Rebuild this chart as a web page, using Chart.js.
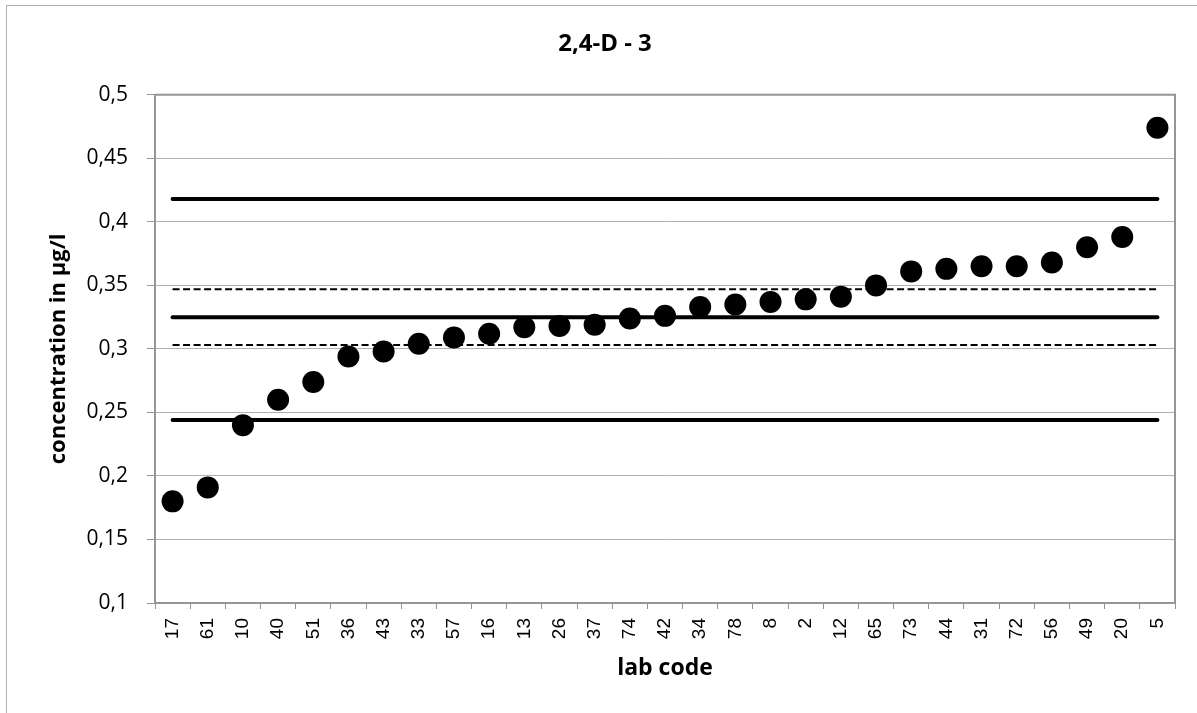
<!DOCTYPE html>
<html>
<head>
<meta charset="utf-8">
<script src="https://cdn.jsdelivr.net/npm/chart.js@4/dist/chart.umd.min.js"></script>
<style>
  body { margin: 0; background: #fff; }
  #chart { display: block; }
</style>
</head>
<body>
<canvas id="chart" width="1197" height="713"></canvas>
<script>
const labCodes = ["17", "61", "10", "40", "51", "36", "43", "33", "57", "16", "13", "26", "37", "74", "42",
  "34", "78", "8", "2", "12", "65", "73", "44", "31", "72", "56", "49", "20", "5"];
const concentrations = [0.180, 0.191, 0.240, 0.260, 0.274, 0.294, 0.298, 0.304, 0.309, 0.312, 0.317, 0.318,
  0.319, 0.324, 0.326, 0.333, 0.335, 0.337, 0.339, 0.341, 0.350, 0.361, 0.363, 0.365, 0.365, 0.368,
  0.380, 0.388, 0.474];
// reference lines: assigned value, +/- limits
const upperLimit = 0.418;
const upperDash = 0.347;
const assignedValue = 0.325;
const lowerDash = 0.303;
const lowerLimit = 0.244;
const yTickValues = [0.1, 0.15, 0.2, 0.25, 0.3, 0.35, 0.4, 0.45, 0.5];

const first = labCodes[0];
const last = labCodes[labCodes.length - 1];

function refLine(value, dashed) {
  return {
    data: [{ x: first, y: value }, { x: last, y: value }],
    borderColor: "#000",
    borderWidth: dashed ? 2 : 4,
    borderDash: dashed ? [7, 3.5] : [],
    borderCapStyle: dashed ? "butt" : "round",
    pointRadius: 0,
    fill: false
  };
}

const framePlugin = {
  id: "frame",
  beforeDraw(chart) {
    const ctx = chart.ctx;
    ctx.save();
    ctx.strokeStyle = "#b0b0b0";
    ctx.lineWidth = 1;
    ctx.strokeRect(6.5, 5.5, 1400, 1000);
    ctx.restore();
  },
  afterDraw(chart) {
    const { ctx, chartArea } = chart;
    ctx.save();
    ctx.strokeStyle = "#959595";
    ctx.lineWidth = 2;
    ctx.beginPath();
    ctx.moveTo(chartArea.left, chartArea.top);
    ctx.lineTo(chartArea.right, chartArea.top);
    ctx.lineTo(chartArea.right, chartArea.bottom);
    ctx.stroke();
    ctx.restore();
  }
};

const ctx = document.getElementById("chart").getContext("2d");
const chart = new Chart(ctx, {
  type: "line",
  data: {
    labels: labCodes,
    datasets: [
      {
        data: concentrations,
        showLine: false,
        pointRadius: 11,
        pointBackgroundColor: "#000",
        pointBorderColor: "#000",
        pointBorderWidth: 0
      },
      refLine(upperLimit, false),
      refLine(upperDash, true),
      refLine(assignedValue, false),
      refLine(lowerDash, true),
      refLine(lowerLimit, false)
    ]
  },
  options: {
    responsive: false,
    animation: false,
    layout: { padding: { left: 35, right: 22, top: 0, bottom: 0 } },
    plugins: {
      legend: { display: false },
      tooltip: { enabled: false },
      title: {
        display: true,
        text: "2,4-D - 3",
        color: "#000",
        font: { family: "'Open Sans'", size: 24, weight: "bold", lineHeight: 1.2 },
        padding: { top: 30, bottom: 36 }
      }
    },
    scales: {
      x: {
        type: "category",
        offset: true,
        afterFit(scale) { scale.height = 110; },
        grid: {
          offset: true,
          drawOnChartArea: false,
          drawTicks: true,
          tickLength: 6,
          tickColor: "#959595"
        },
        border: { color: "#959595", width: 2 },
        ticks: {
          autoSkip: false,
          minRotation: 90,
          maxRotation: 90,
          padding: 9,
          color: "#000",
          font: { family: "'Liberation Sans'", size: 19 }
        },
        title: {
          display: true,
          text: "lab code",
          color: "#000",
          font: { family: "'Open Sans'", size: 23, weight: "bold", lineHeight: 1.2 },
          padding: { top: 0, bottom: 31 }
        }
      },
      y: {
        min: 0.1,
        max: 0.5,
        afterFit(scale) { scale.width = 120; },
        afterBuildTicks(scale) { scale.ticks = yTickValues.map(v => ({ value: v })); },
        grid: {
          color: "#b0b0b0",
          lineWidth: 1,
          drawTicks: true,
          tickLength: 8,
          tickColor: "#959595"
        },
        border: { color: "#959595", width: 2 },
        ticks: {
          padding: 19,
          color: "#000",
          font: { family: "'Open Sans'", size: 21 },
          callback: value => String(value).replace(".", ",")
        },
        title: {
          display: true,
          text: "concentration in µg/l",
          color: "#000",
          font: { family: "'Open Sans'", size: 22, weight: "bold", lineHeight: 1.2 },
          padding: { top: 11, bottom: 0 }
        }
      }
    }
  },
  plugins: [framePlugin]
});
</script>
</body>
</html>
